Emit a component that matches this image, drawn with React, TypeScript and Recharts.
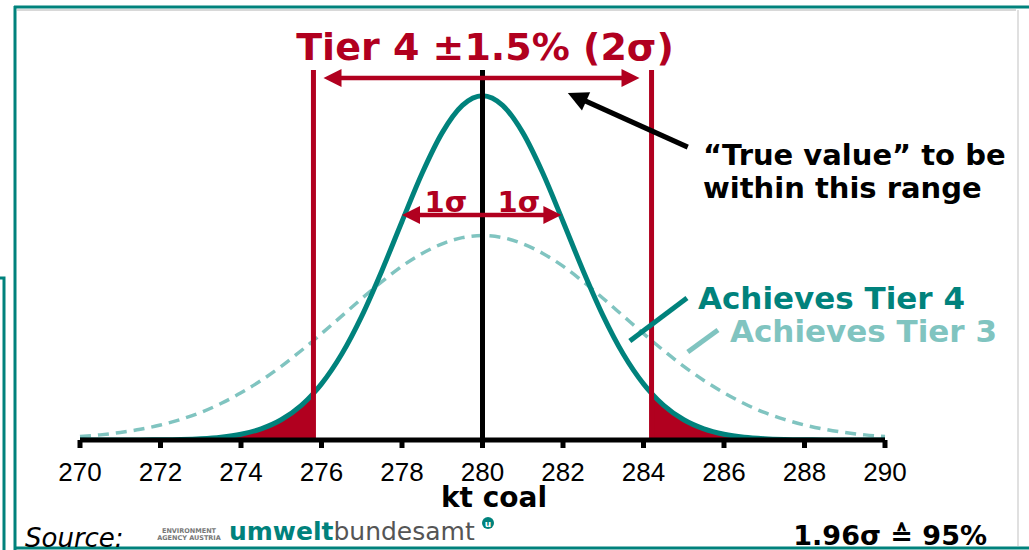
import { Area, ComposedChart, Line, ReferenceLine, XAxis, YAxis } from "recharts";

// kt coal positions (half-unit steps plus the two 2σ cut points)
const xValues = [
  270, 270.5, 271, 271.5, 272, 272.5, 273, 273.5, 274, 274.5, 275, 275.5, 275.8,
  276, 276.5, 277, 277.5, 278, 278.5, 279, 279.5, 280, 280.5, 281, 281.5, 282,
  282.5, 283, 283.5, 284, 284.2, 284.5, 285, 285.5, 286, 286.5, 287, 287.5, 288,
  288.5, 289, 289.5, 290
];

// relative height of the narrow curve (achieves Tier 4)
const tier4 = [
  0, 0, 0.0001, 0.0003, 0.0007, 0.0017, 0.0039, 0.0083, 0.0169, 0.0324, 0.0588, 0.1007, 0.1353,
  0.163, 0.249, 0.36, 0.492, 0.635, 0.775, 0.893, 0.972, 1, 0.972, 0.893, 0.775, 0.635,
  0.492, 0.36, 0.249, 0.163, 0.1353, 0.1007, 0.0588, 0.0324, 0.0169, 0.0083, 0.0039, 0.0017, 0.0007,
  0.0003, 0.0001, 0, 0
];

// relative height of the wide dashed curve (achieves Tier 3)
const tier3 = [
  0.01, 0.0149, 0.0218, 0.0311, 0.0436, 0.0598, 0.08, 0.106, 0.137, 0.173, 0.214, 0.26, 0.289,
  0.309, 0.36, 0.411, 0.46, 0.505, 0.542, 0.57, 0.588, 0.594, 0.588, 0.57, 0.542, 0.505,
  0.46, 0.411, 0.36, 0.309, 0.289, 0.26, 0.214, 0.173, 0.137, 0.106, 0.08, 0.0598, 0.0436,
  0.0311, 0.0218, 0.0149, 0.01
];

// red tails outside ±2σ
const tails = [
  0, 0, 0.0001, 0.0003, 0.0007, 0.0017, 0.0039, 0.0083, 0.0169, 0.0324, 0.0588, 0.1007, 0.1353,
  null, null, null, null, null, null, null, null, null, null, null, null, null,
  null, null, null, null, 0.1353, 0.1007, 0.0588, 0.0324, 0.0169, 0.0083, 0.0039, 0.0017, 0.0007,
  0.0003, 0.0001, 0, 0
];

const xTicks = [270, 272, 274, 276, 278, 280, 282, 284, 286, 288, 290];

const rows = xValues.map((x, i) => ({ x, tier4: tier4[i], tier3: tier3[i], tail: tails[i] }));

const RED = "#b1001f";
const TEAL = "#00827c";
const LIGHT = "#80c4c0";
const BOLD = "'DejaVu Sans', Verdana, sans-serif";

function arrow(color: string, width: number, head: number, both: boolean) {
  return (p: any) => {
    const { x1, y1, x2, y2 } = p;
    const len = Math.hypot(x2 - x1, y2 - y1) || 1;
    const ux = (x2 - x1) / len;
    const uy = (y2 - y1) / len;
    const nx = -uy;
    const ny = ux;
    const tip = (tx: number, ty: number, dx: number, dy: number) => {
      const bx = tx - dx * head;
      const by = ty - dy * head;
      return `${tx},${ty} ${bx + nx * head * 0.5},${by + ny * head * 0.5} ${bx - nx * head * 0.5},${by - ny * head * 0.5}`;
    };
    const sx = both ? x1 + ux * head * 0.8 : x1;
    const sy = both ? y1 + uy * head * 0.8 : y1;
    return (
      <g>
        <line x1={sx} y1={sy} x2={x2 - ux * head * 0.8} y2={y2 - uy * head * 0.8} stroke={color} strokeWidth={width} />
        <polygon points={tip(x2, y2, ux, uy)} fill={color} />
        {both && <polygon points={tip(x1, y1, -ux, -uy)} fill={color} />}
      </g>
    );
  };
}

function plain(color: string, width: number) {
  return (p: any) => <line x1={p.x1} y1={p.y1} x2={p.x2} y2={p.y2} stroke={color} strokeWidth={width} />;
}

export default function App() {
  return (
    <div style={{ position: "absolute", left: 0, top: 0, width: 1029, height: 550, background: "#fff", overflow: "hidden" }}>
      <ComposedChart width={1029} height={550} data={rows} margin={{ top: 70, right: 144, bottom: 70, left: 80 }}>
        <XAxis
          dataKey="x"
          type="number"
          domain={[270, 290]}
          ticks={xTicks}
          height={40}
          axisLine={{ stroke: "#000", strokeWidth: 5 }}
          tickLine={{ stroke: "#000", strokeWidth: 5 }}
          tickSize={8}
          tickMargin={15}
          tick={{ fontSize: 26, fill: "#000", fontFamily: "'Liberation Sans', Arial, sans-serif" }}
        />
        <YAxis hide domain={[0, 1.075]} allowDataOverflow />
        <Area dataKey="tail" type="monotone" fill={RED} fillOpacity={1} stroke="none" isAnimationActive={false} connectNulls={false} />
        <Line dataKey="tier3" type="monotone" stroke={LIGHT} strokeWidth={3.5} strokeDasharray="11 7" dot={false} activeDot={false} isAnimationActive={false} />
        <Line dataKey="tier4" type="monotone" stroke={TEAL} strokeWidth={5} dot={false} activeDot={false} isAnimationActive={false} />
        <ReferenceLine x={280} stroke="#000" strokeWidth={5} />
        <ReferenceLine x={275.8} stroke={RED} strokeWidth={5} />
        <ReferenceLine x={284.2} stroke={RED} strokeWidth={5} />
        <ReferenceLine segment={[{ x: 276.05, y: 1.052 }, { x: 283.9, y: 1.052 }]} shape={arrow(RED, 4.5, 18, true)} />
        <ReferenceLine segment={[{ x: 278.0, y: 0.654 }, { x: 281.96, y: 0.654 }]} shape={arrow(RED, 4.5, 18, true)} />
        <ReferenceLine segment={[{ x: 285.1, y: 0.851 }, { x: 282.12, y: 1.008 }]} shape={arrow("#000", 5, 20, false)} />
        <ReferenceLine segment={[{ x: 283.66, y: 0.2876 }, { x: 285.08, y: 0.4125 }]} shape={plain(TEAL, 5)} />
        <ReferenceLine segment={[{ x: 285.1, y: 0.2557 }, { x: 285.85, y: 0.3196 }]} shape={plain(LIGHT, 5)} />
      </ComposedChart>
      <svg width={1029} height={550} style={{ position: "absolute", left: 0, top: 0, pointerEvents: "none" }}>
        <line x1={14} y1={7} x2={1029} y2={7} stroke={TEAL} strokeWidth={3} />
        <line x1={15} y1={6} x2={15} y2={550} stroke={TEAL} strokeWidth={3} />
        <line x1={15} y1={548} x2={1029} y2={548} stroke={TEAL} strokeWidth={3} />
        <line x1={1018} y1={10} x2={1018} y2={546} stroke="#d6d6d6" strokeWidth={1.5} />
        <line x1={17} y1={10} x2={1016} y2={10} stroke="#d8d8d8" strokeWidth={2} />
        <polyline points="0,278 4,278 4,550" fill="none" stroke={TEAL} strokeWidth={3} />

        <text x={485} y={60} textAnchor="middle" fontFamily={BOLD} fontWeight="bold" fontSize={38} fill={RED}>
          Tier 4 ±1.5% (2σ)
        </text>
        <text x={446} y={212} textAnchor="middle" fontFamily={BOLD} fontWeight="bold" fontSize={29} fill={RED}>1σ</text>
        <text x={519} y={212} textAnchor="middle" fontFamily={BOLD} fontWeight="bold" fontSize={29} fill={RED}>1σ</text>

        <text x={703} y={165} fontFamily={BOLD} fontWeight="bold" fontSize={29} fill="#000">“True value” to be</text>
        <text x={703} y={198} fontFamily={BOLD} fontWeight="bold" fontSize={29} fill="#000">within this range</text>

        <text x={698} y={309} fontFamily={BOLD} fontWeight="bold" fontSize={31} fill={TEAL}>Achieves Tier 4</text>
        <text x={730} y={342} fontFamily={BOLD} fontWeight="bold" fontSize={31} fill={LIGHT}>Achieves Tier 3</text>

        <text x={494} y={507} textAnchor="middle" fontFamily={BOLD} fontWeight="bold" fontSize={28} fill="#000">kt coal</text>

        <text x={25} y={547} fontFamily={BOLD} fontStyle="italic" fontSize={26} fill="#000">Source:</text>
        <text x={189} y={533} textAnchor="middle" fontFamily={BOLD} fontWeight="bold" fontSize={6.5} fill="#777">ENVIRONMENT</text>
        <text x={189} y={540} textAnchor="middle" fontFamily={BOLD} fontWeight="bold" fontSize={6.5} fill="#777">AGENCY AUSTRIA</text>
        <text x={229} y={540} fontFamily={BOLD} fontSize={25} fill="#555">
          <tspan fontWeight="bold" fill={TEAL}>umwelt</tspan>
          <tspan>bundesamt</tspan>
        </text>
        <circle cx={488} cy={523} r={6} fill={TEAL} />
        <text x={488} y={526.5} textAnchor="middle" fontFamily={BOLD} fontWeight="bold" fontSize={9} fill="#fff">u</text>

        <text x={987} y={545} textAnchor="end" fontFamily={BOLD} fontWeight="bold" fontSize={27} fill="#000">1.96σ ≙ 95%</text>
      </svg>
    </div>
  );
}
